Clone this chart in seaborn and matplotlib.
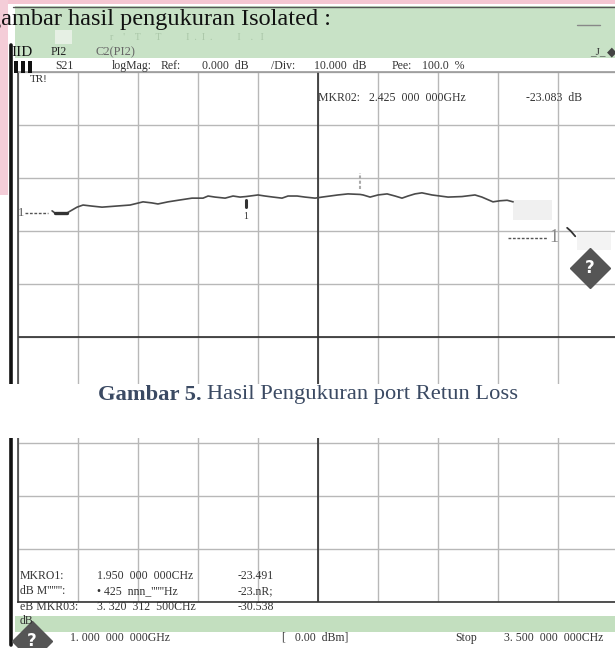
"""Recreate a scanned network-analyzer screen (S21 LogMag trace) with seaborn."""
import matplotlib

matplotlib.use("Agg")

import matplotlib.pyplot as plt
import seaborn as sns
from matplotlib.lines import Line2D
from matplotlib.patches import Rectangle

W, H = 615, 648

# --- data ---------------------------------------------------------------
freq_ghz = [1.142, 1.154, 1.204, 1.246, 1.271, 1.308, 1.350, 1.467, 1.521, 1.558,
            1.583, 1.625, 1.667, 1.725, 1.771, 1.792, 1.821, 1.863, 1.896, 1.925,
            1.950, 2.000, 2.029, 2.063, 2.100, 2.125, 2.163, 2.196, 2.238, 2.267,
            2.300, 2.333, 2.375, 2.425, 2.438, 2.467, 2.500, 2.538, 2.571, 2.600,
            2.625, 2.654, 2.683, 2.725, 2.792, 2.850, 2.904, 2.933, 2.979, 3.008,
            3.038, 3.063]
s21_db = [-26.2, -26.6, -26.6, -25.5, -25.1, -25.3, -25.5, -25.1, -24.5, -24.7,
          -24.9, -24.5, -24.2, -23.8, -23.8, -23.4, -23.6, -23.8, -23.4, -23.6,
          -23.5, -23.2, -23.4, -23.6, -23.8, -23.4, -23.4, -23.6, -23.8, -23.6,
          -23.4, -23.2, -23.0, -23.1, -23.2, -23.6, -23.2, -23.0, -23.4, -23.8,
          -23.4, -23.0, -22.8, -23.2, -23.6, -23.5, -23.2, -23.6, -24.5, -24.3,
          -24.2, -24.5]

# short visible piece of the trace near marker 3
tail_freq_ghz = [3.288, 3.303, 3.322]
tail_db = [-29.4, -30.0, -31.0]

marker_freq_ghz = [1.950, 2.425, 3.320]
marker_db = [-23.491, -23.083, -30.538]

# reference-level indicators drawn on the screen
left_ref = ([1.03, 1.125], -26.6)
right_ref = ([3.04, 3.21], -31.3)

x_ticks = [1.0, 1.25, 1.5, 1.75, 2.0, 2.25, 2.5, 2.75, 3.0, 3.25, 3.5]
y_ticks = [0, -10, -20, -30, -40, -50, -60, -70, -80, -90, -100]

title_text = "gambar hasil pengukuran Isolated :"
caption_bold = "Gambar 5."
caption_rest = "Hasil Pengukuran port Retun Loss"

header_row1 = [("IID", 11, 11, "#111"), ("PI2", 51, 8.5, "#222"), ("C2(PI2)", 96, 9, "#666")]
header_row2 = [("S21", 55), ("logMag:", 112), ("Ref:", 161), ("0.000  dB", 202),
               ("/Div:", 271), ("10.000  dB", 314), ("Pee:", 392), ("100.0  %", 422)]

marker_rows = [
    ("MKRO1:", "1.950  000  000CHz", "-23.491"),
    ("dB M''''''':", "\u2022 425  nnn_''''''Hz", "-23.nR;"),
    ("eB MKR03:", "3. 320  312  500CHz", "-30.538"),
]
footer = [("1. 000  000  000GHz", 70), ("[   0.00  dBm]", 282), ("Stop", 455),
          ("3. 500  000  000CHz", 504)]


def fx(x):
    return x / W


def fy(y):
    return 1 - y / H


def ftext(x, y, s, size=8.5, color="#222", **kw):
    return fig.text(fx(x), fy(y), s, fontsize=size, color=color, va="center",
                    zorder=4, **kw)


def frect(x0, y0, x1, y1, color, z=1):
    fig.add_artist(Rectangle((fx(x0), fy(y1)), (x1 - x0) / W, (y1 - y0) / H,
                             transform=fig.transFigure, facecolor=color,
                             edgecolor="none", zorder=z))


def fline(xs, ys, color, lw, z=1):
    fig.add_artist(Line2D([fx(v) for v in xs], [fy(v) for v in ys],
                          transform=fig.transFigure, color=color, lw=lw, zorder=z))


def fdiamond(x, y, size):
    fig.add_artist(Line2D([fx(x)], [fy(y)], marker="D", markersize=size,
                          color="#555555", transform=fig.transFigure, zorder=4))
    fig.text(fx(x), fy(y), "?", color="white", fontsize=size * 0.6, weight="bold",
             ha="center", va="center", family="DejaVu Sans", zorder=5)


sns.set_style("white")
plt.rcParams["font.family"] = ["Liberation Serif", "DejaVu Sans"]

fig = plt.figure(figsize=(W / 100, H / 100), dpi=100)
fig.patch.set_facecolor("white")

# --- measurement grid ----------------------------------------------------
ax = fig.add_axes([fx(18), fy(602), 600 / W, 530 / H])
ax.set_xlim(1.0, 3.5)
ax.set_ylim(-100, 0)
ax.set_xticks(x_ticks)
ax.set_yticks(y_ticks)
ax.grid(True, color="#b8b8b8", linewidth=1.0)
ax.tick_params(length=0, labelbottom=False, labelleft=False)
ax.axvline(2.25, color="#2e2e2e", lw=1.2)
ax.axhline(-50, color="#2e2e2e", lw=1.2)
for side, col in [("top", "#9a9a9a"), ("left", "#444"), ("bottom", "#333"), ("right", "#b8b8b8")]:
    ax.spines[side].set_color(col)
    ax.spines[side].set_linewidth(1.2)

sns.lineplot(x=freq_ghz, y=s21_db, ax=ax, color="#4a4a4a", linewidth=1.2,
             sort=False, estimator=None)
ax.plot(freq_ghz[1:3], s21_db[1:3], color="#333", lw=2.4)
sns.lineplot(x=tail_freq_ghz, y=tail_db, ax=ax, color="#333", linewidth=1.3,
             sort=False, estimator=None)

# obscured parts of the scan
ax.add_patch(Rectangle((3.063, -28.0), 0.162, 3.9, facecolor="#f0f0f0", edgecolor="none"))
ax.add_patch(Rectangle((3.33, -33.6), 0.14, 3.4, facecolor="#f3f3f3", edgecolor="none"))

# reference indicators
ax.plot(left_ref[0], [left_ref[1]] * 2, color="#555", lw=1, ls=(0, (2, 1.2)))
ax.text(1.0, left_ref[1], "1", fontsize=9, color="#555", va="center")
ax.plot(right_ref[0], [right_ref[1]] * 2, color="#555", lw=1, ls=(0, (2, 1.2)))
ax.text(right_ref[0][1] + 0.005, right_ref[1], "1", fontsize=13, color="#888", va="center")

# marker symbols
ax.plot([marker_freq_ghz[0]] * 2, [marker_db[0] - 0.6, marker_db[0] - 2.0], color="#333", lw=2.2)
ax.text(marker_freq_ghz[0], marker_db[0] - 3.8, "1", fontsize=7, color="#333",
        ha="center", va="center")
ax.plot([marker_freq_ghz[1]] * 2, [marker_db[1] + 1.0, marker_db[1] + 4.0], color="#aaa",
        lw=1.5, ls=(0, (1.5, 1)))

# --- page decoration ------------------------------------------------------
frect(0, 0, W, 4, "#f4c6d2")
frect(0, 0, 8, 195, "#f4cdd8")
frect(15, 6, W, 58, "#c8e2c6")
frect(55, 30, 72, 44, "#e6f0e4", z=1.5)
frect(15, 616, W, 632, "#c3dfbf")
fline([13, W], [7, 7], "#555", 1.0)
fline([10.5, 10.5], [45, 645], "#111", 2.6)
fline([577, 600], [25, 25], "#888", 1.0)
for bx in (14, 21, 28):
    frect(bx, 61, bx + 3.5, 73, "#111", z=3)

# white band of the page between the two halves of the screenshot
frect(0, 384, W, 438, "white", z=2)

# --- texts -----------------------------------------------------------------
ftext(-11, 19, title_text, size=17.5, color="#111")
# faint ghost characters left in the green band by the scan
ftext(110, 38, "r    '    T      T          I  .  I  .          I    .   I", size=7,
      color="#a9c6a7")
cap = ftext(98, 395, caption_bold, size=16.2, color="#3b4a63", weight="bold")
fig.canvas.draw()
cap_end = cap.get_window_extent(fig.canvas.get_renderer()).x1
ftext(cap_end + 5, 395, caption_rest, size=16.2, color="#3b4a63")

for s, x, size, col in header_row1:
    ftext(x, 52, s, size=size, color=col)
ftext(590, 52, "_J_", size=8, color="#333")
ftext(607, 52, "\u25c6", size=9, color="#444", family="DejaVu Sans")
for s, x in header_row2:
    ftext(x, 66, s, size=8.5, color="#333")

ftext(30, 79, "TR!", size=8, color="#333")
ftext(318, 98, "MKR02:   2.425  000  000GHz", size=8.5, color="#333")
ftext(526, 98, "-23.083  dB", size=8.5, color="#333")

for i, (a, b, c) in enumerate(marker_rows):
    y = 576 + i * 15.5
    ftext(20, y, a, size=8.5, color="#333")
    ftext(97, y, b, size=8.5, color="#333")
    ftext(238, y, c, size=8.5, color="#333")
ftext(20, 621, "dB", size=8.5, color="#333")
for s, x in footer:
    ftext(x, 638, s, size=8.5, color="#333")

fdiamond(590, 268, 20)
fdiamond(32, 641, 20)

fig.savefig("out.png", dpi=100)
